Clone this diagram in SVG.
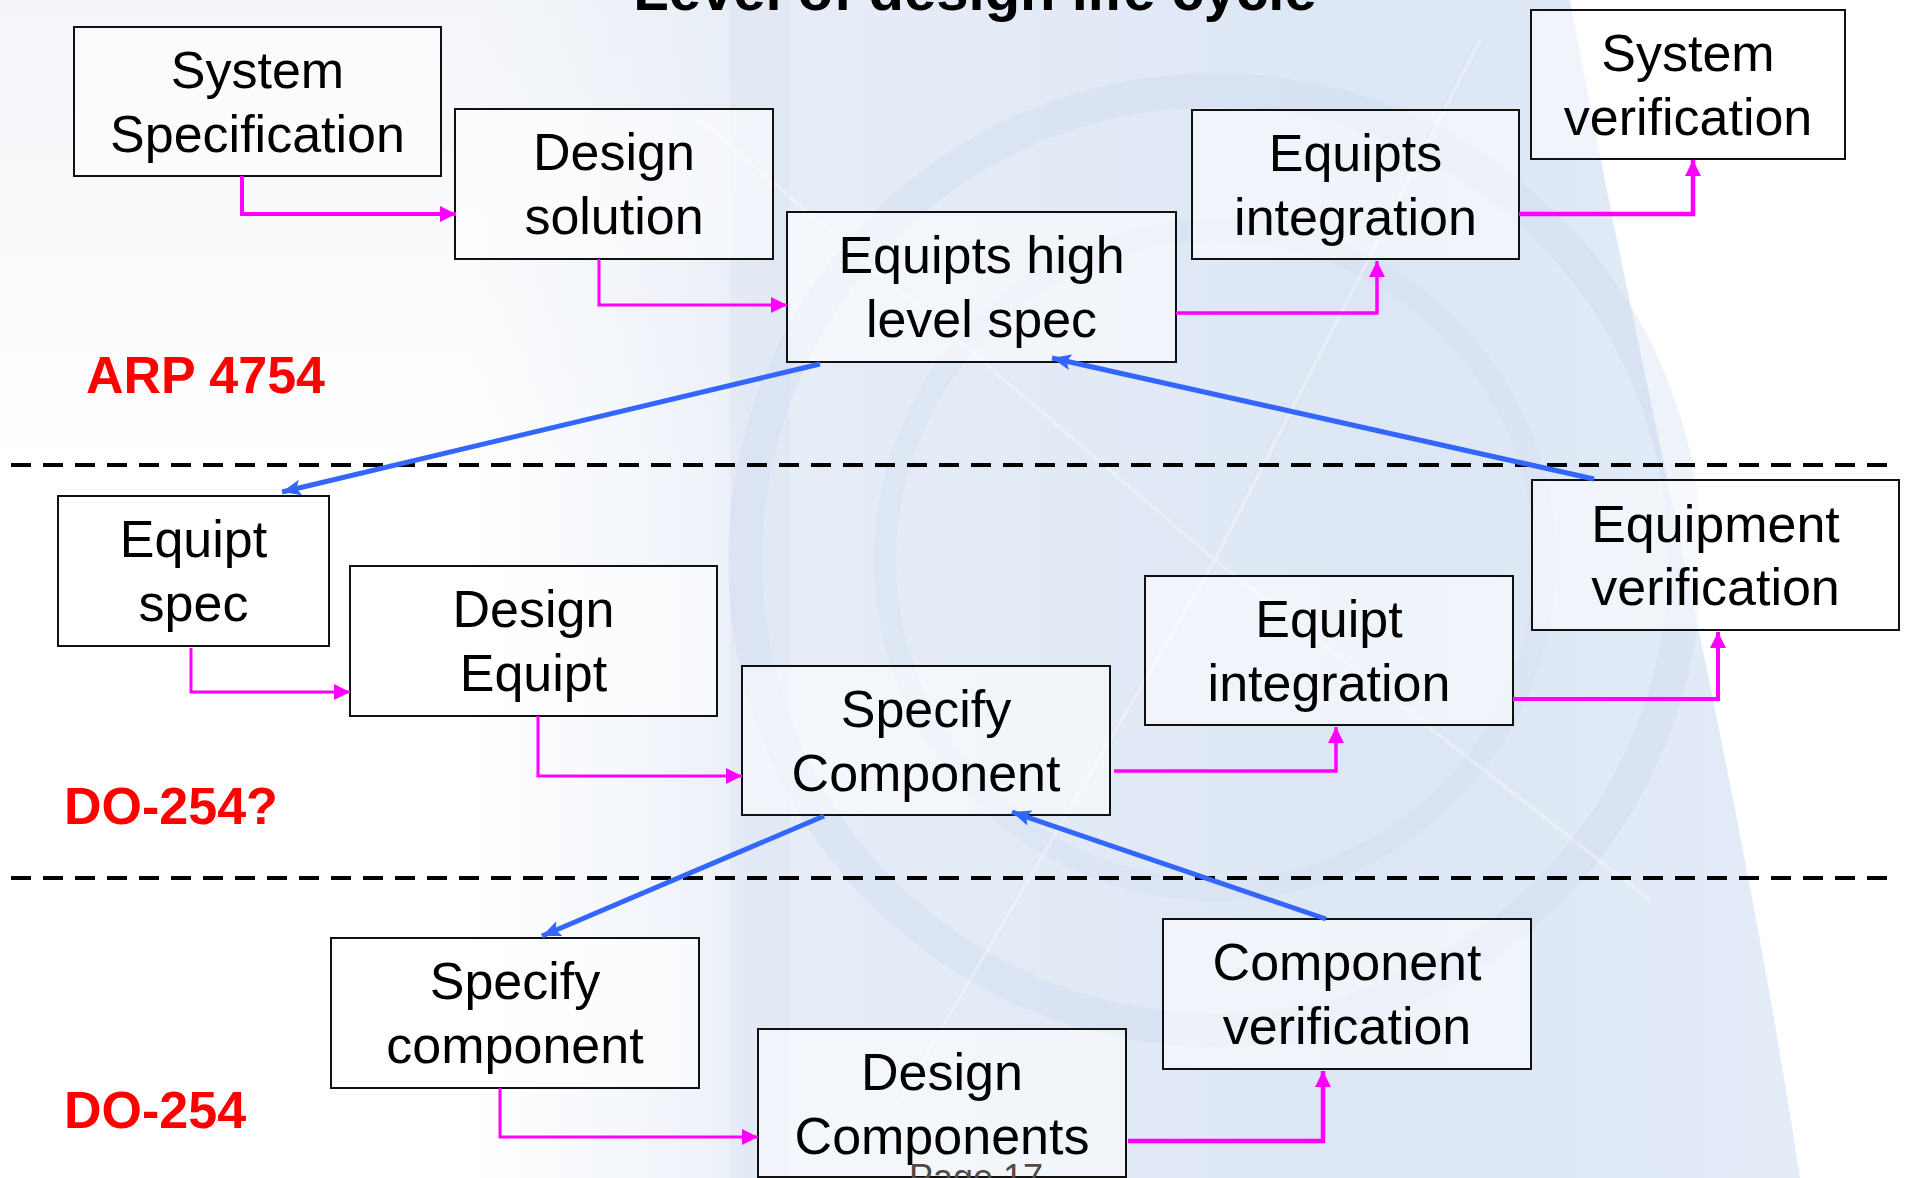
<svg xmlns="http://www.w3.org/2000/svg" width="1905" height="1178" viewBox="0 0 1905 1178">
  <defs>
    <linearGradient id="bandFade" x1="0" y1="0" x2="1" y2="0">
      <stop offset="0" stop-color="#e6edf7" stop-opacity="0"/>
      <stop offset="0.25" stop-color="#e2eaf6" stop-opacity="0.85"/>
      <stop offset="0.7" stop-color="#dce6f4" stop-opacity="1"/>
      <stop offset="1" stop-color="#e4ecf8" stop-opacity="1"/>
    </linearGradient>
    <linearGradient id="leftHaze" x1="0" y1="0" x2="0" y2="1">
      <stop offset="0" stop-color="#eef1f6"/>
      <stop offset="1" stop-color="#ffffff"/>
    </linearGradient>
    <marker id="pinkHead" markerUnits="userSpaceOnUse" markerWidth="16" markerHeight="16" refX="16" refY="8" orient="auto">
      <path d="M0,0 L16,8 L0,16 z" fill="#ff00ff"/>
    </marker>
    <marker id="blueHead" markerUnits="userSpaceOnUse" markerWidth="20" markerHeight="16" refX="19" refY="8" orient="auto">
      <path d="M0,0 L19,8 L0,16 L4,8 z" fill="#3366ff"/>
    </marker>
    <style>
      .box { fill: #ffffff; fill-opacity: 0.55; stroke: #111111; stroke-width: 2; }
      .label { font-family: "Liberation Sans", Arial, sans-serif; font-size: 52px; fill: #000000; text-anchor: middle; }
      .std { font-family: "Liberation Sans", Arial, sans-serif; font-size: 52px; font-weight: bold; fill: #ff0000; }
      .flow { fill: none; stroke: #ff00ff; marker-end: url(#pinkHead); }
      .trace { fill: none; stroke: #3366ff; stroke-width: 5; marker-end: url(#blueHead); }
      .level { stroke: #000000; stroke-width: 4; stroke-dasharray: 20 12; }
    </style>
  </defs>

  <!-- backdrop: pale radar-like artwork -->
  <g id="backdrop">
    <rect x="0" y="0" width="1905" height="1178" fill="#ffffff"/>
    <rect x="0" y="0" width="760" height="470" fill="url(#leftHaze)" opacity="0.7"/>
    <path d="M 470 0 L 1570 0 C 1640 380 1740 780 1800 1178 L 470 1178 Z" fill="url(#bandFade)"/>
    <circle cx="1215" cy="560" r="470" fill="none" stroke="#c8d5ea" stroke-width="34" opacity="0.3"/>
    <circle cx="1215" cy="560" r="330" fill="none" stroke="#cdd9ec" stroke-width="22" opacity="0.25"/>
    <path d="M 760 0 L 760 1178" stroke="#d3def0" stroke-width="60" opacity="0.3"/>
    <path d="M 1215 560 L 700 120 M 1215 560 L 1480 40 M 1215 560 L 1650 900 M 1215 560 L 900 1100" stroke="#ffffff" stroke-width="3" opacity="0.35"/>
  </g>

  <!-- title -->
  <text x="975" y="10" font-family="Liberation Sans, Arial, sans-serif" font-size="58" font-weight="bold" text-anchor="middle" fill="#000000">Level of design life cycle</text>

  <!-- boundaries between standards -->
  <g id="levels">
    <line class="level" x1="11" y1="465" x2="1895" y2="465"/>
    <line class="level" x1="11" y1="878" x2="1895" y2="878"/>
  </g>

  <!-- standard names -->
  <text class="std" x="86" y="393">ARP 4754</text>
  <text class="std" x="64" y="824">DO-254?</text>
  <text class="std" x="64" y="1128">DO-254</text>

  <!-- nodes -->
  <g id="system-specification">
    <rect class="box" x="74" y="27" width="367" height="149"/>
    <text class="label" x="257.5" y="88">System</text>
    <text class="label" x="257.5" y="152">Specification</text>
  </g>
  <g id="design-solution">
    <rect class="box" x="455" y="109" width="318" height="150"/>
    <text class="label" x="614" y="170">Design</text>
    <text class="label" x="614" y="234">solution</text>
  </g>
  <g id="equipts-high-level-spec">
    <rect class="box" x="787" y="212" width="389" height="150"/>
    <text class="label" x="981.5" y="273">Equipts high</text>
    <text class="label" x="981.5" y="337">level spec</text>
  </g>
  <g id="equipts-integration">
    <rect class="box" x="1192" y="110" width="327" height="149"/>
    <text class="label" x="1355.5" y="171">Equipts</text>
    <text class="label" x="1355.5" y="235">integration</text>
  </g>
  <g id="system-verification">
    <rect class="box" x="1531" y="10" width="314" height="149"/>
    <text class="label" x="1688" y="71">System</text>
    <text class="label" x="1688" y="135">verification</text>
  </g>
  <g id="equipt-spec">
    <rect class="box" x="58" y="496" width="271" height="150"/>
    <text class="label" x="193.5" y="557">Equipt</text>
    <text class="label" x="193.5" y="621">spec</text>
  </g>
  <g id="design-equipt">
    <rect class="box" x="350" y="566" width="367" height="150"/>
    <text class="label" x="533.5" y="627">Design</text>
    <text class="label" x="533.5" y="691">Equipt</text>
  </g>
  <g id="specify-component-equipt">
    <rect class="box" x="742" y="666" width="368" height="149"/>
    <text class="label" x="926" y="727">Specify</text>
    <text class="label" x="926" y="791">Component</text>
  </g>
  <g id="equipt-integration">
    <rect class="box" x="1145" y="576" width="368" height="149"/>
    <text class="label" x="1329" y="637">Equipt</text>
    <text class="label" x="1329" y="701">integration</text>
  </g>
  <g id="equipment-verification">
    <rect class="box" x="1532" y="480" width="367" height="150"/>
    <text class="label" x="1715.5" y="542">Equipment</text>
    <text class="label" x="1715.5" y="605">verification</text>
  </g>
  <g id="specify-component">
    <rect class="box" x="331" y="938" width="368" height="150"/>
    <text class="label" x="515" y="999">Specify</text>
    <text class="label" x="515" y="1063">component</text>
  </g>
  <g id="design-components">
    <rect class="box" x="758" y="1029" width="368" height="148"/>
    <text class="label" x="942" y="1090">Design</text>
    <text class="label" x="942" y="1154">Components</text>
  </g>
  <g id="component-verification">
    <rect class="box" x="1163" y="919" width="368" height="150"/>
    <text class="label" x="1347" y="980">Component</text>
    <text class="label" x="1347" y="1044">verification</text>
  </g>

  <!-- page footer, printed over the lowest box -->
  <text x="909" y="1190" font-family="Liberation Sans, Arial, sans-serif" font-size="36" fill="#4f4a45">Page 17</text>

  <!-- connectors -->
  <g id="connectors">
    <polyline class="flow" stroke-width="4" points="242,176 242,214 456,214"/>
    <polyline class="flow" stroke-width="3" points="599,259 599,305 787,305"/>
    <polyline class="flow" stroke-width="3.5" points="1176,313 1377,313 1377,261"/>
    <polyline class="flow" stroke-width="4.5" points="1519,214 1693,214 1693,160"/>
    <polyline class="flow" stroke-width="3" points="191,648 191,692 350,692"/>
    <polyline class="flow" stroke-width="3" points="538,716 538,776 742,776"/>
    <polyline class="flow" stroke-width="3.5" points="1114,771 1336,771 1336,727"/>
    <polyline class="flow" stroke-width="4" points="1513,699 1718,699 1718,632"/>
    <polyline class="flow" stroke-width="3" points="500,1088 500,1137 758,1137"/>
    <polyline class="flow" stroke-width="4.5" points="1128,1141 1323,1141 1323,1071"/>

    <line class="trace" x1="820" y1="364" x2="282" y2="492"/>
    <line class="trace" x1="1594" y1="479" x2="1052" y2="358"/>
    <line class="trace" x1="824" y1="816" x2="542" y2="936"/>
    <line class="trace" x1="1326" y1="919" x2="1012" y2="812"/>
  </g>
</svg>
